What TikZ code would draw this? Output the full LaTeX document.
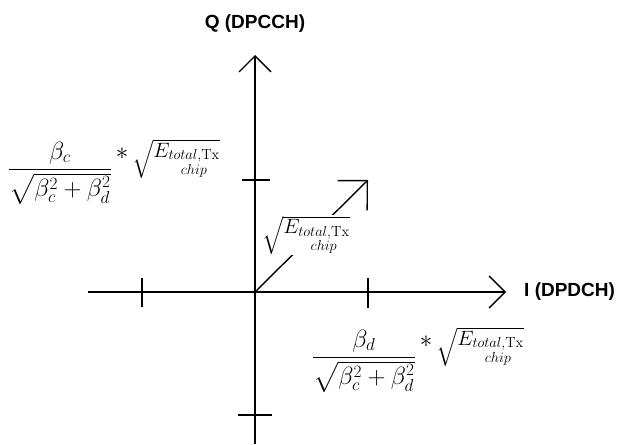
\documentclass[tikz,border=0pt]{standalone}
\usepackage{amsmath,amssymb}
\usepackage{fontspec}
\setsansfont{Liberation Sans}
\usetikzlibrary{arrows.meta,positioning,calc}
\newcommand{\sqrtE}{\sqrt{E_{\substack{total,\mathrm{Tx}\\ chip}}}}
\newcommand{\ampform}[1]{$\displaystyle\frac{\beta_#1}{\sqrt{\beta_c^2+\beta_d^2}}\,
  \raisebox{17pt}{$*$}\,\raisebox{19pt}{\fontsize{21}{25}\selectfont$\sqrtE$}$}

\begin{document}
\begin{tikzpicture}[x=1pt,y=-1pt,
    axis/.style={line width=1.4pt,-{Straight Barb[length=16pt,width=32pt]}},
    tick/.style={line width=1.4pt},
    vec/.style={line width=1.4pt,-{Straight Barb[length=21pt,width=42pt]}},
    axlabel/.style={inner sep=0pt,font=\sffamily\bfseries\fontsize{19}{22}\selectfont},
    formula/.style={inner sep=0pt,font=\fontsize{25}{29}\selectfont},
    root/.style={inner sep=1pt,fill=white,font=\fontsize{21}{25}\selectfont}
  ]
  \useasboundingbox (0,0) rectangle (617,444);
  \coordinate (O) at (255,292);
  \coordinate (west) at (88,292);
  \coordinate (east) at (506,292);
  \coordinate (north) at (255,55);
  \coordinate (south) at (255,444);
  \coordinate (P) at (368,180);
  \draw[axis] (west) -- (east);
  \draw[axis] (south) -- (north);
  \draw[tick] (142,278) -- (142,307);
  \draw[tick] (368,278) -- (368,308);
  \draw[tick] (242,180) -- (270,180);
  \draw[tick] (238,415) -- (272,415);
  \draw[vec] (O) -- (P);
  \node[axlabel] (qlab) at (255,24) {Q (DPCCH)};
  \node[axlabel,anchor=west] (ilab) at (524,292) {I (DPDCH)};
  \node[root] (amp) at (306,235) {$\sqrtE$};
  \node[formula,anchor=base east] (cform) at (220,176) {\ampform{c}};
  \node[formula,anchor=base east] (dform) at (524,364) {\ampform{d}};
\end{tikzpicture}
\end{document}
